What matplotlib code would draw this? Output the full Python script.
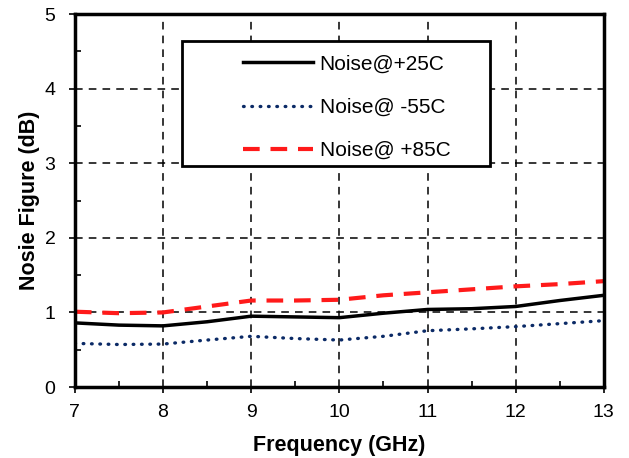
import matplotlib
matplotlib.use("Agg")
import matplotlib.pyplot as plt
from matplotlib.ticker import MultipleLocator
from matplotlib.patches import Rectangle

plt.rcParams['font.family'] = ['Liberation Sans', 'DejaVu Sans']

freq = [7, 7.5, 8, 8.5, 9, 9.5, 10, 10.5, 11, 11.5, 12, 12.5, 13]
nf_25 = [0.86, 0.83, 0.82, 0.875, 0.95, 0.94, 0.93, 0.99, 1.04, 1.05, 1.08, 1.16, 1.23]
nf_m55 = [0.585, 0.57, 0.576, 0.63, 0.68, 0.65, 0.63, 0.68, 0.755, 0.78, 0.81, 0.85, 0.89]
nf_85 = [1.01, 0.99, 1.0, 1.08, 1.16, 1.16, 1.17, 1.23, 1.27, 1.31, 1.35, 1.38, 1.42]
labels = ['Noise@+25C', 'Noise@ -55C', 'Noise@ +85C']

fig = plt.figure(figsize=(6.29, 4.58), dpi=100)
ax = fig.add_axes([0.119, 0.155, 0.841, 0.814])

ax.plot(freq, nf_25, color='black', lw=2.5, label=labels[0])
ax.plot(freq, nf_m55, color='#0b2a66', lw=2.4, linestyle=(0, (0.2, 2.3)),
        dash_capstyle='round', label=labels[1])
ax.plot(freq, nf_85, color='#ff1a1a', lw=3, linestyle=(0, (4, 2.6)), label=labels[2])

ax.set_xlim(7, 13)
ax.set_ylim(0, 5)
ax.xaxis.set_major_locator(MultipleLocator(1))
ax.xaxis.set_minor_locator(MultipleLocator(0.5))
ax.yaxis.set_major_locator(MultipleLocator(1))
ax.yaxis.set_minor_locator(MultipleLocator(0.5))
ax.tick_params(which='major', direction='out', length=4, width=1.2, labelsize=14)
ax.tick_params(axis='x', which='major', pad=8)
ax.tick_params(axis='y', which='major', pad=10)
ax.tick_params(which='minor', direction='in', length=4, width=1.2)
ax.grid(True, which='major', color='black', linestyle=(0, (5, 4)), lw=1.1)

for s in ax.spines.values():
    s.set_linewidth(2.5)

ax.set_xlabel('Frequency (GHz)', fontsize=15.5, fontweight='bold', labelpad=10)
ax.set_ylabel('Nosie Figure (dB)', fontsize=15.5, fontweight='bold', labelpad=3)

frame = Rectangle((0.202, 0.592), 0.583, 0.336, transform=ax.transAxes,
                  facecolor='white', edgecolor='black', lw=2, zorder=4)
ax.add_patch(frame)
leg = ax.legend(loc='upper left', bbox_to_anchor=(0.3176, 0.892), fontsize=15,
                frameon=False, handlelength=3.36, labelspacing=1.17,
                borderpad=0, handletextpad=0.33, borderaxespad=0)
leg.set_zorder(5)

fig.savefig('out.png', dpi=100)
